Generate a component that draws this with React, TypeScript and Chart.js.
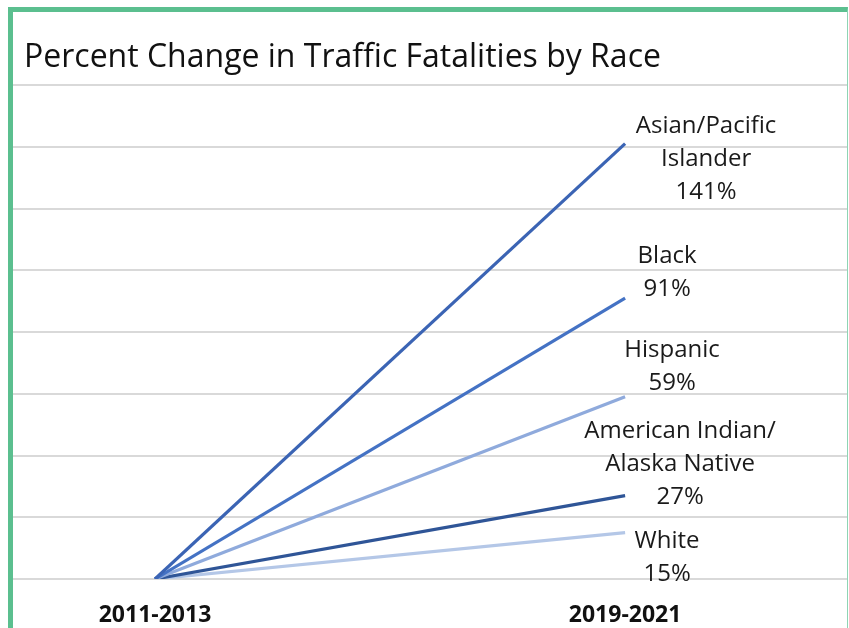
import React, { useEffect, useRef } from "react";
import { Chart, registerables } from "chart.js";

Chart.register(...registerables);

const title = "Percent Change in Traffic Fatalities by Race";
const periods = ["2011-2013", "2019-2021"];
const groups = ["Asian/Pacific Islander", "Black", "Hispanic", "American Indian/Alaska Native", "White"];
const startValues = [0, 0, 0, 0, 0];
const endValues = [141, 91, 59, 27, 15];
const labelLines = [
  ["Asian/Pacific", "Islander", "141%"],
  ["Black", "91%"],
  ["Hispanic", "59%"],
  ["American Indian/", "Alaska Native", "27%"],
  ["White", "15%"],
];
const lineColors = ["#3b64b4", "#4472c4", "#8faadc", "#2f5597", "#b4c7e7"];
// label offsets (dx, dy of first line centre) relative to line end
const labelOffsets = [
  [81, -18],
  [42, -42],
  [47, -47],
  [55, -64],
  [42, 8],
];

const FONT = "'Open Sans', 'Noto Sans', sans-serif";

const labelPlugin = {
  id: "endLabels",
  afterDatasetsDraw(chart: any) {
    const ctx = chart.ctx;
    ctx.save();
    ctx.fillStyle = "#1a1a1a";
    ctx.font = `24px ${FONT}`;
    ctx.textAlign = "center";
    ctx.textBaseline = "middle";
    chart.data.datasets.forEach((_ds: any, i: number) => {
      const meta = chart.getDatasetMeta(i);
      const pt = meta.data[1];
      const [dx, dy] = labelOffsets[i];
      labelLines[i].forEach((line, j) => {
        ctx.fillText(line, pt.x + dx, pt.y + dy + j * 33);
      });
    });
    ctx.restore();
  },
};

const titlePlugin = {
  id: "leftTitle",
  afterDraw(chart: any) {
    const ctx = chart.ctx;
    ctx.save();
    ctx.fillStyle = "#111";
    ctx.font = `32px ${FONT}`;
    ctx.textAlign = "left";
    ctx.textBaseline = "middle";
    ctx.fillText(title, 11, 46);
    ctx.restore();
  },
};

export default function App() {
  const ref = useRef<HTMLCanvasElement>(null);
  useEffect(() => {
    if (!ref.current) return;
    const chart = new Chart(ref.current, {
      type: "line",
      data: {
        datasets: groups.map((g, i) => ({
          label: g,
          data: [
            { x: 0, y: startValues[i] },
            { x: 1, y: endValues[i] },
          ],
          borderColor: lineColors[i],
          backgroundColor: lineColors[i],
          borderWidth: 3.2,
          pointRadius: 0,
          tension: 0,
        })),
      },
      options: {
        animation: false,
        responsive: false,
        layout: { padding: { top: 73, bottom: 0, left: 0, right: 0 } },
        plugins: {
          legend: { display: false },
          tooltip: { enabled: false },
          title: { display: false },
        },
        scales: {
          x: {
            type: "linear",
            min: -0.302,
            max: 1.472,
            grid: { display: false },
            border: { display: false },
            afterBuildTicks: (axis: any) => {
              axis.ticks = periods.map((_p, i) => ({ value: i }));
            },
            afterFit: (axis: any) => {
              axis.height = 49;
            },
            ticks: {
              padding: 15,
              color: "#111",
              font: { family: FONT, size: 23, weight: "bold" },
              callback: (v: any) => periods[v as number] ?? "",
              maxRotation: 0,
              autoSkip: false,
            },
          },
          y: {
            min: 0,
            max: 160,
            ticks: { display: false, stepSize: 20 },
            grid: { color: "#d9d9d9", lineWidth: 2, drawTicks: false },
            border: { display: false },
          },
        },
      },
      plugins: [labelPlugin, titlePlugin],
    });
    return () => chart.destroy();
  }, []);

  return (
    <div
      style={{
        position: "fixed",
        left: 8,
        top: 7,
        borderLeft: "5px solid #5bbf8f",
        borderTop: "5px solid #5bbf8f",
        borderRight: "1px solid #8fd4b4",
        background: "#fff",
      }}
    >
      <canvas ref={ref} width={834} height={616} style={{ display: "block" }} />
    </div>
  );
}
